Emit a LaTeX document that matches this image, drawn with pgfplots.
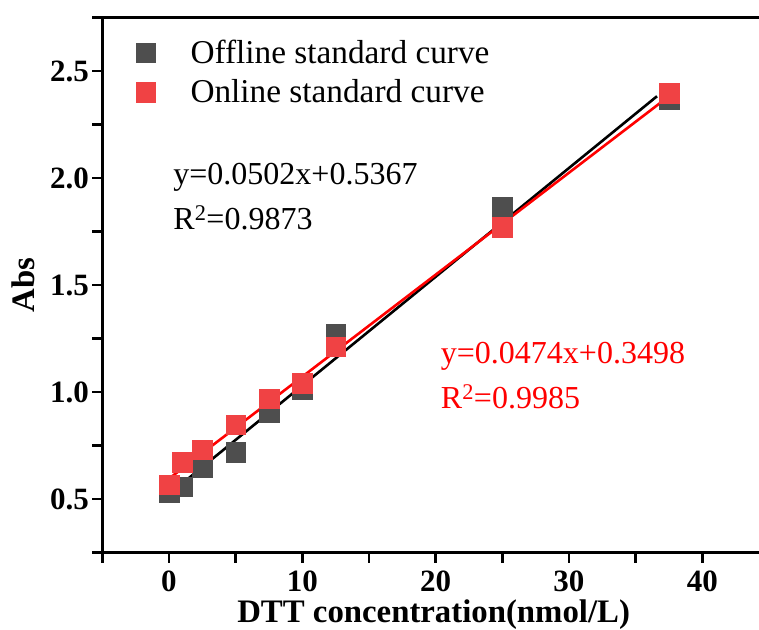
\documentclass[border=0pt]{standalone}
\usepackage{pgfplots}
\usepackage{pgfplotstable}
\pgfplotsset{compat=1.18}
\usepackage{fontspec}
\setmainfont{Liberation Serif}

\definecolor{offgray}{RGB}{78,78,78}
\definecolor{onred}{RGB}{240,66,68}

% DTT standard curves: absorbance vs concentration
\pgfplotstableread{
x     off    on
0     0.531  0.568
1     0.559  0.674
2.5   0.648  0.732
5     0.720  0.849
7.5   0.905  0.969
10    1.012  1.043
12.5  1.271  1.212
25    1.867  1.771
37.5  2.369  2.398
}\dtt

\begin{document}
\begin{tikzpicture}
\begin{axis}[
  at={(0pt,0pt)}, anchor=south west,
  scale only axis,
  width=666.7pt, height=535pt,
  xmin=-5, xmax=45, ymin=0.25, ymax=2.75,
  axis x line*=bottom, axis y line*=left,
  axis line style={line width=2.7pt, -},
  tick align=outside,
  major tick length=10pt, minor tick length=10pt,
  every tick/.style={black, line width=2.5pt},
  xtick={0,10,...,40}, minor xtick={-5,5,...,45},
  ytick={0.5,1,...,2.5}, minor ytick={0.25,0.75,...,2.75},
  yticklabel style={/pgf/number format/.cd, fixed, fixed zerofill, precision=1},
  /pgf/number format/assume math mode=true,
  ticklabel style={font=\fontsize{31}{33}\selectfont\bfseries},
  xticklabel style={inner sep=0pt, yshift=-8pt},
  xlabel={DTT concentration(nmol/L)},
  ylabel={Abs},
  label style={font=\fontsize{32.8}{36}\selectfont\bfseries},
  xlabel style={at={(rel axis cs:0.497,0)}, anchor=base, inner sep=0pt, yshift=-70pt},
  ylabel style={at={(rel axis cs:-0.118,0.5)}, anchor=center, rotate=0},
  legend style={draw=none, fill=none, at={(rel axis cs:0.045,0.9654)}, anchor=north west,
    font=\fontsize{33.3}{38}\selectfont, row sep=10.5pt},
  legend cell align=left,
  legend image code/.code={\draw[#1] plot coordinates {(0pt,0pt)}; \path[draw=none, fill=none] (-10pt,-10pt) rectangle (43pt,10pt);},
]
\addplot[only marks, mark=square*, mark size=9.75pt, offgray, mark options={draw=offgray, fill=offgray}]
  table[x=x, y=off] {\dtt};
\addlegendentry{Offline standard curve}
\addplot[black, line width=2.6pt, forget plot] coordinates {(0,0.523) (36.6,2.383)};
\addplot[only marks, mark=square*, mark size=9.75pt, onred, mark options={draw=onred, fill=onred}]
  table[x=x, y=on] {\dtt};
\addlegendentry{Online standard curve}
\addplot[red, line width=2.6pt, forget plot] coordinates {(0,0.596) (37.5,2.383)};

\node[anchor=base west, inner sep=0pt, font=\fontsize{32}{36}\selectfont] at (axis cs:0.32,1.972) {y=0.0502x+0.5367};
\node[anchor=base west, inner sep=0pt, font=\fontsize{32}{36}\selectfont] at (axis cs:0.32,1.762) {R\textsuperscript{2}=0.9873};
\node[anchor=base west, inner sep=0pt, font=\fontsize{32}{36}\selectfont, text=red] at (axis cs:20.38,1.134) {y=0.0474x+0.3498};
\node[anchor=base west, inner sep=0pt, font=\fontsize{32}{36}\selectfont, text=red] at (axis cs:20.38,0.925) {R\textsuperscript{2}=0.9985};
\end{axis}
\draw[line width=2.7pt] (current axis.north west) -- (current axis.north east);
\pgfresetboundingbox
\path (-102.3pt,-76.3pt) rectangle (656.7pt,552.7pt);
\end{tikzpicture}
\end{document}
